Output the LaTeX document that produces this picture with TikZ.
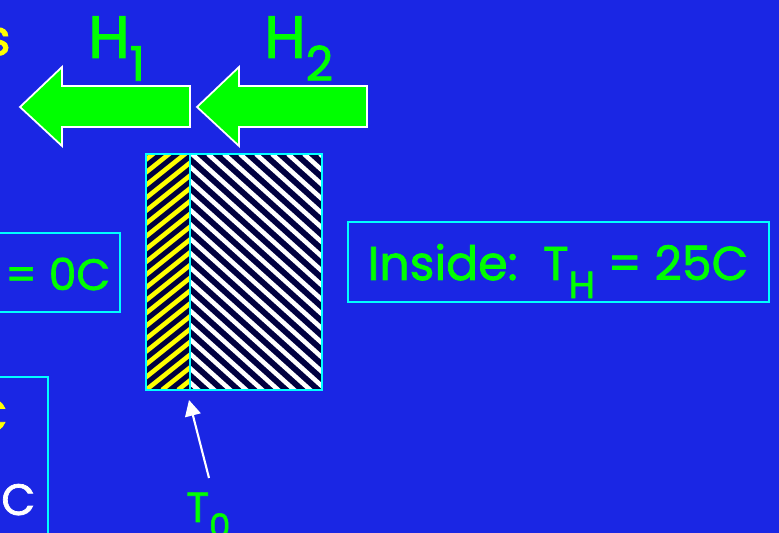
\documentclass[tikz,border=0pt]{standalone}
\usepackage{fontspec}
\setmainfont{Poppins}[FakeBold=1.6]
\usetikzlibrary{arrows.meta}

\definecolor{slideblue}{RGB}{26,38,228}
\definecolor{wallnavy}{RGB}{0,0,64}
\definecolor{hotgreen}{RGB}{0,255,0}
\definecolor{edgecyan}{RGB}{0,255,255}
\definecolor{textyellow}{RGB}{255,255,0}

\newcommand{\lowsub}[1]{\raisebox{-0.38em}{\scalebox{0.8}{#1}}}

\begin{document}
\begin{tikzpicture}[x=0.02cm, y=-0.02cm,
      box/.style={draw=edgecyan, line width=1.1pt, inner sep=0pt},
      greentxt/.style={text=hotgreen, font=\fontsize{27}{30}\selectfont, inner sep=0pt},
      heat/.style={fill=hotgreen, draw=white, line width=1pt, line join=miter},
      whitestripe/.style={draw=white, line width=2.6pt},
      yellowstripe/.style={draw=textyellow, line width=2.6pt},
      ptr/.style={-{Triangle[length=9pt,width=9pt]}, draw=white, fill=white, line width=1.2pt}
    ]
    \useasboundingbox (0,0) rectangle (779,533);
    \fill[slideblue] (0,0) rectangle (779,533);
    \clip (0,0) rectangle (779,533);

    % heat flow arrows
    \foreach \tx/\ex in {20/190, 197/367} {
      \draw[heat] (\tx,107) -- ({\tx+42},67) -- ({\tx+42},86) -- (\ex,86)
        -- (\ex,127) -- ({\tx+42},127) -- ({\tx+42},146) -- cycle; }
    \node[greentxt, font=\fontsize{34}{36}\selectfont, anchor=base west] (h1) at (88,58) {H\lowsub{1}};
    \node[greentxt, font=\fontsize{34}{36}\selectfont, anchor=base west] (h2) at (264,58) {H\lowsub{2}};
    \node[text=textyellow, font=\fontsize{28}{30}\selectfont, inner sep=0pt, anchor=base east] (cut) at (11,55) {s};

    % wall layers
    \fill[wallnavy] (146,154) rectangle (322,390);
    \begin{scope}
      \clip (146,154) rectangle (190,390);
      \foreach \k in {-20,...,4}
        \draw[yellowstripe] ({146+16*\k},390) -- ++(300,-240);
    \end{scope}
    \begin{scope}
      \clip (190,154) rectangle (322,390);
      \foreach \k in {-19,...,9}
        \draw[whitestripe] ({192+16*\k},154) -- ++(300,270);
    \end{scope}
    \draw[edgecyan, line width=1.1pt] (146,154) rectangle (322,390) (190,154) -- (190,390);
    \coordinate (t0) at (189,400);

    % temperature boxes
    \node[box, minimum width=2.8cm, minimum height=1.58cm] (outside) at (50,272.5) {};
    \node[greentxt, font=\fontsize{25}{28}\selectfont, anchor=base west] (outtxt) at (5,290) {= 0C};
    \node[box, minimum width=8.42cm, minimum height=1.6cm] (inside) at (558.5,262) {};
    \node[greentxt, anchor=base] (intxt) at (558,280) {Inside:\ \ T\lowsub{H} = 25C};
    \node[box, minimum width=1.36cm, minimum height=3.66cm] (lower) at (14,468.5) {};
    \node[text=textyellow, font=\fontsize{27}{30}\selectfont, inner sep=0pt, anchor=base east] (lowc) at (8,432) {C};
    \node[text=white, font=\fontsize{25}{28}\selectfont, inner sep=0pt, anchor=base west] (loww) at (1,515) {C};

    % interface temperature
    \node[greentxt, font=\fontsize{24}{26}\selectfont, anchor=base west] (t0lbl) at (186,522) {T\lowsub{0}};
    \draw[ptr] (209,478) -- (t0);
  \end{tikzpicture}
\end{document}
